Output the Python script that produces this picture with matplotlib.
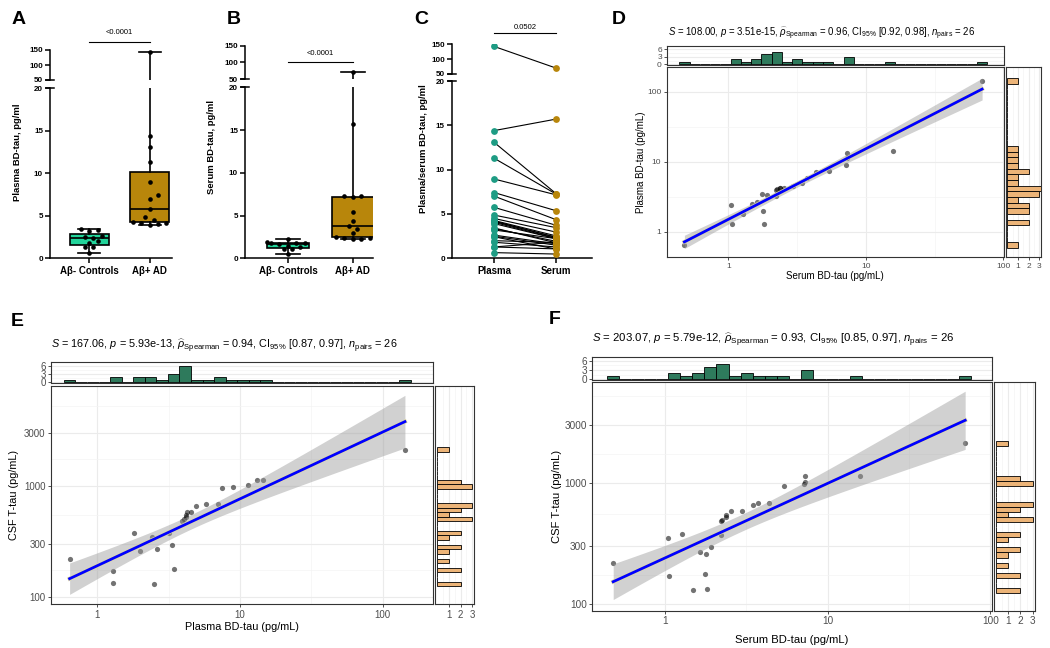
import numpy as np
import matplotlib
matplotlib.use('Agg')
import matplotlib.pyplot as plt
from matplotlib.ticker import NullFormatter
from matplotlib.transforms import blended_transform_factory

plt.rcParams['font.family'] = ['Liberation Sans', 'DejaVu Sans']
plt.rcParams['mathtext.fontset'] = 'custom'
plt.rcParams['mathtext.rm'] = 'Liberation Sans'
plt.rcParams['mathtext.it'] = 'Liberation Sans:italic'
plt.rcParams['mathtext.bf'] = 'Liberation Sans:bold'

# 26 participants: first 11 are Abeta- controls, last 15 are Abeta+ AD
plasma = [0.64, 2.43, 1.28, 1.81, 2.49, 2.62, 3.43, 1.99, 1.28, 3.35, 3.20,
          3.92, 4.06, 4.16, 4.20, 4.27, 4.50, 4.88, 5.75, 7.02, 7.42, 8.95, 11.3, 13.1, 14.4, 143.0]
serum = [0.48, 1.04, 1.06, 1.28, 1.48, 1.63, 1.75, 1.78, 1.81, 1.92, 2.22,
         2.22, 2.25, 2.36, 2.38, 2.53, 2.96, 3.46, 3.73, 4.36, 5.37, 7.16, 7.25, 7.30, 15.7, 70.0]
csf = [218, 348, 172, 376, 130, 268, 177, 258, 133, 294, 371,
       484, 496, 519, 543, 582, 584, 650, 680, 680, 945, 967, 1017, 1126, 1126, 2108]
n_ctrl = 11

groups = ['A\u03b2- Controls', 'A\u03b2+ AD']
pair_labels = ['Plasma', 'Serum']
p_labels = ['<0.0001', '<0.0001', '0.0502']
stats_D = ('108.00', '3.51e-15', '0.96', '[0.92, 0.98]', 26)
stats_E = ('167.06', '5.93e-13', '0.94', '[0.87, 0.97]', 26)
stats_F = ('203.07', '5.79e-12', '0.93', '[0.85, 0.97]', 26)

plasma = np.array(plasma)
serum = np.array(serum)
csf = np.array(csf, dtype=float)

W, H = 1050, 648
fig = plt.figure(figsize=(W / 100, H / 100), dpi=100)


def pax(l, t, r, b):
    return fig.add_axes([l / W, 1 - b / H, (r - l) / W, (b - t) / H])


def ftext(x, y, s, **kw):
    return fig.text(x / W, 1 - y / H, s, **kw)


# ---------- panels A-C (GraphPad style, broken y axis) ----------
def broken_axes(lo_box, hi_box, xlim):
    lo = pax(*lo_box)
    hi = pax(*hi_box)
    for ax in (lo, hi):
        ax.set_xlim(*xlim)
        ax.spines['top'].set_visible(False)
        ax.spines['right'].set_visible(False)
        ax.spines['left'].set_linewidth(1.1)
        ax.spines['bottom'].set_linewidth(1.1)
        ax.tick_params(axis='y', length=3.5, width=1.1, pad=1.5)
    hi.spines['bottom'].set_visible(False)
    lo.set_ylim(0, 20)
    hi.set_ylim(50, 150)
    lo.set_yticks([0, 5, 10, 15, 20], labels=['0', '5', '10', '15', '20'], fontweight='bold', fontsize=5.8)
    hi.set_yticks([50, 100, 150], labels=['50', '100', '150'], fontweight='bold', fontsize=5.8)
    # break marks
    for ax, yy, box in ((hi, 0, hi_box), (lo, 1, lo_box)):
        w = 4.0 / (box[2] - box[0])
        ax.plot([-w, w], [yy, yy], color='black', lw=1.1, transform=ax.transAxes, clip_on=False)
    lo.tick_params(axis='x', length=3.5, width=1.1, pad=2)
    return lo, hi


def hide_x(ax):
    ax.set_xticks([])
    ax.tick_params(axis='x', bottom=False, labelbottom=False)


def sig(ax, x0, x1, ybar, ytext, label):
    tr = blended_transform_factory(ax.transData, ax.transAxes)
    ax.plot([x0, x1], [ybar, ybar], color='black', lw=0.8, transform=tr, clip_on=False)
    ax.text((x0 + x1) / 2, ytext, label, transform=tr, ha='center', va='center', fontsize=5.5)


def swarm_offsets(vals, ppu_x, ppu_y, diam=5.5, step=4.2):
    vals = np.asarray(vals)
    offs = np.zeros(len(vals))
    placed = []
    for i in np.argsort(vals):
        v = vals[i]
        for k in [0, 1, -1, 2, -2, 3, -3, 4, -4, 5, -5]:
            dx = k * step
            if all((dx - px) ** 2 + ((v - pv) * ppu_y) ** 2 >= diam ** 2 for px, pv in placed):
                break
        placed.append((dx, v))
        offs[i] = dx / ppu_x
    return offs


ctrl_fill = '#22D49A'
ad_fill = '#B8860B'
plasma_dot = '#1E9C84'


def box_panel(lo_box, hi_box, xlim, values, ppu_x):
    lo, hi = broken_axes(lo_box, hi_box, xlim)
    data = [values[:n_ctrl], values[n_ctrl:]]
    for ax in (lo, hi):
        bp = ax.boxplot(data, positions=[0, 1], widths=0.64, whis=(0, 100), patch_artist=True,
                        showfliers=False, capwidths=0.36,
                        medianprops=dict(color='black', lw=1.2),
                        boxprops=dict(edgecolor='black', lw=1.2),
                        whiskerprops=dict(color='black', lw=1.2),
                        capprops=dict(color='black', lw=1.2))
        for patch, c in zip(bp['boxes'], [ctrl_fill, ad_fill]):
            patch.set_facecolor(c)
        for gi, d in enumerate(data):
            offs = swarm_offsets(d, ppu_x, 8.5)
            ax.scatter(gi + offs, d, s=11, color='black', zorder=5, lw=0)
        ax.set_xlim(*xlim)
    lo.set_xticks([0, 1], labels=groups, fontweight='bold', fontsize=7)
    hide_x(hi)
    return lo, hi


# A
loA, hiA = box_panel((50, 88.3, 172, 258.3), (50, 50, 172, 80), (-0.65, 1.37), plasma, 61)
sig(hiA, 0, 1, 1.277, 1.567, p_labels[0])
ftext(18, 152, 'Plasma BD-tau, pg/ml', rotation=90, ha='center', va='center', fontsize=6.8, fontweight='bold')

# B
loB, hiB = box_panel((245, 87.3, 373, 258.3), (245, 45.7, 373, 79), (-0.66, 1.31), serum, 65)
sig(hiB, 0, 1, 0.52, 0.78, p_labels[1])
ftext(212, 147, 'Serum BD-tau, pg/ml', rotation=90, ha='center', va='center', fontsize=6.8, fontweight='bold')

# C
loC, hiC = broken_axes((451.7, 81, 592, 258.3), (451.7, 44.3, 592, 74), (-0.68, 1.58))
for ax in (loC, hiC):
    for p, s in zip(plasma, serum):
        ax.plot([0, 1], [p, s], color='black', lw=0.8, zorder=2)
    ax.scatter(np.zeros(len(plasma)), plasma, s=24, color=plasma_dot, zorder=3, lw=0)
    ax.scatter(np.ones(len(serum)), serum, s=24, color=ad_fill, zorder=3, lw=0)
    ax.set_xlim(-0.68, 1.58)
loC.set_xticks([0, 1], labels=pair_labels, fontweight='bold', fontsize=7)
hide_x(hiC)
sig(hiC, 0, 1, 1.38, 1.58, p_labels[2])
ftext(423, 149, 'Plasma/serum BD-tau, pg/ml', rotation=90, ha='center', va='center', fontsize=6.8, fontweight='bold')

# ---------- panels D-F (ggscatterstats style) ----------
green = '#2E7A5C'
tan = '#ECB478'
grid_major = '#EBEBEB'
grid_minor = '#F4F4F4'
spine_c = '#333333'
tick_c = '#4D4D4D'


def log_bins(v, nb=30):
    lv = np.log10(v)
    w = (lv.max() - lv.min()) / (nb - 1)
    return 10 ** (lv.min() - w / 2 + w * np.arange(nb + 1))


def log_minors(ticks, lim):
    lt = np.log10(ticks)
    d = np.diff(lt)
    mids = list(lt[:-1] + d / 2) + [lt[0] - d[0] / 2, lt[-1] + d[-1] / 2]
    lo, hi = np.log10(lim)
    return [10 ** m for m in mids if lo < m < hi]


def style(ax, fs):
    for sp in ax.spines.values():
        sp.set_color(spine_c)
        sp.set_linewidth(0.8)
    ax.tick_params(which='major', length=2.5, width=0.6, color=spine_c, labelcolor=tick_c, labelsize=fs, pad=1.5)
    ax.tick_params(which='minor', length=0)
    ax.grid(which='major', color=grid_major, lw=0.8)
    ax.grid(which='minor', color=grid_minor, lw=0.5)
    ax.set_axisbelow(True)


def stats_title(st):
    S, p, rho, ci, n = st
    return (r'$\mathit{S}$ = ' + S + r', $\mathit{p}$ = ' + p + r', $\widehat{\rho}_{\mathrm{Spearman}}$ = ' + rho +
            r', CI$_{95\%}$ ' + ci + r', $\mathit{n}_{\mathrm{pairs}}$ = ' + str(n))


def scatter_panel(main_box, top_box, side_box, xv, yv, xlim, ylim, xticks, yticks, fs, st, title_xy, tfs,
                  xlab, xlab_xy, ylab, ylab_xy, lfs):
    main = pax(*main_box)
    top = pax(*top_box)
    side = pax(*side_box)
    main.set_xscale('log')
    main.set_yscale('log')
    top.set_xscale('log')
    side.set_yscale('log')
    main.set_xlim(*xlim)
    top.set_xlim(*xlim)
    main.set_ylim(*ylim)
    side.set_ylim(*ylim)

    main.set_xticks(xticks, labels=[str(t) for t in xticks])
    main.set_yticks(yticks, labels=[str(t) for t in yticks])
    main.set_xticks(log_minors(xticks, xlim), minor=True)
    main.set_yticks(log_minors(yticks, ylim), minor=True)
    main.xaxis.set_minor_formatter(NullFormatter())
    main.yaxis.set_minor_formatter(NullFormatter())
    style(main, fs)

    # regression on log-log scale with 95% CI
    lx, ly = np.log10(xv), np.log10(yv)
    n = len(lx)
    b, a = np.polyfit(lx, ly, 1)
    xs = np.linspace(lx.min(), lx.max(), 100)
    fit = a + b * xs
    s = np.sqrt(np.sum((ly - (a + b * lx)) ** 2) / (n - 2))
    se = s * np.sqrt(1 / n + (xs - lx.mean()) ** 2 / np.sum((lx - lx.mean()) ** 2))
    t = 2.064
    main.scatter(xv, yv, s=14, color='black', alpha=0.55, lw=0, zorder=2)
    main.fill_between(10 ** xs, 10 ** (fit - t * se), 10 ** (fit + t * se), color='#999999', alpha=0.45, lw=0, zorder=3)
    main.plot(10 ** xs, 10 ** fit, color='#E6DFA0', lw=2.9, zorder=4)
    main.plot(10 ** xs, 10 ** fit, color='blue', lw=2.0, zorder=5)

    top.hist(xv, bins=log_bins(xv), color=green, edgecolor='black', lw=0.6, zorder=3)
    top.set_ylim(-0.3, 7.35)
    top.set_yticks([0, 3, 6], labels=['0', '3', '6'])
    top.set_yticks([1.5, 4.5], minor=True)
    top.set_xticks([])
    top.set_xticks([], minor=True)
    style(top, fs)
    top.tick_params(axis='y', pad=1)

    side.hist(yv, bins=log_bins(yv), orientation='horizontal', color=tan, edgecolor='black', lw=0.6, zorder=3)
    side.set_xlim(-0.15, 3.15)
    side.set_xticks([1, 2, 3], labels=['1', '2', '3'])
    side.set_xticks([0.5, 1.5, 2.5], minor=True)
    side.set_yticks([])
    side.set_yticks([], minor=True)
    style(side, fs)

    ftext(title_xy[0], title_xy[1], stats_title(st), ha='left', va='center', fontsize=tfs)
    ftext(xlab_xy[0], xlab_xy[1], xlab, ha='center', va='center', fontsize=lfs)
    ftext(ylab_xy[0], ylab_xy[1], ylab, ha='center', va='center', rotation=90, fontsize=lfs)


# D: serum vs plasma
scatter_panel((666.7, 66.7, 1004, 257.3), (666.7, 46, 1004, 65), (1005.7, 66.7, 1041, 257.3),
              serum, plasma, (0.357, 101), (0.43, 227), [1, 10, 100], [1, 10, 100], 6.0,
              stats_D, (668, 34), 6.9, 'Serum BD-tau (pg/mL)', (835, 276),
              'Plasma BD-tau (pg/mL)', (641, 162), 7.0)

# E: plasma vs CSF
scatter_panel((51, 386, 433.3, 604), (51, 361.7, 433.3, 383.3), (435.3, 386, 474, 604),
              plasma, csf, (0.474, 226), (85.9, 7900), [1, 10, 100], [100, 300, 1000, 3000], 7.0,
              stats_E, (51, 346.7), 7.8, 'Plasma BD-tau (pg/mL)', (242, 627),
              'CSF T-tau (pg/mL)', (14, 495), 7.8)

# F: serum vs CSF
scatter_panel((592.3, 381.7, 992.3, 610.7), (592.3, 356.7, 992.3, 380), (994.3, 381.7, 1034.5, 610.7),
              serum, csf, (0.357, 102.8), (88.7, 6760), [1, 10, 100], [100, 300, 1000, 3000], 7.2,
              stats_F, (592, 340.7), 8.2, 'Serum BD-tau (pg/mL)', (792, 640),
              'CSF T-tau (pg/mL)', (557, 496), 8.1)

# panel letters
for letter, (x, y) in zip('ABCDEF', [(19, 20), (234, 20), (421, 20), (619, 20), (17, 322), (555, 320)]):
    ftext(x, y, letter, ha='center', va='center', fontsize=14, fontweight='bold')

fig.savefig('out.png', dpi=100)
